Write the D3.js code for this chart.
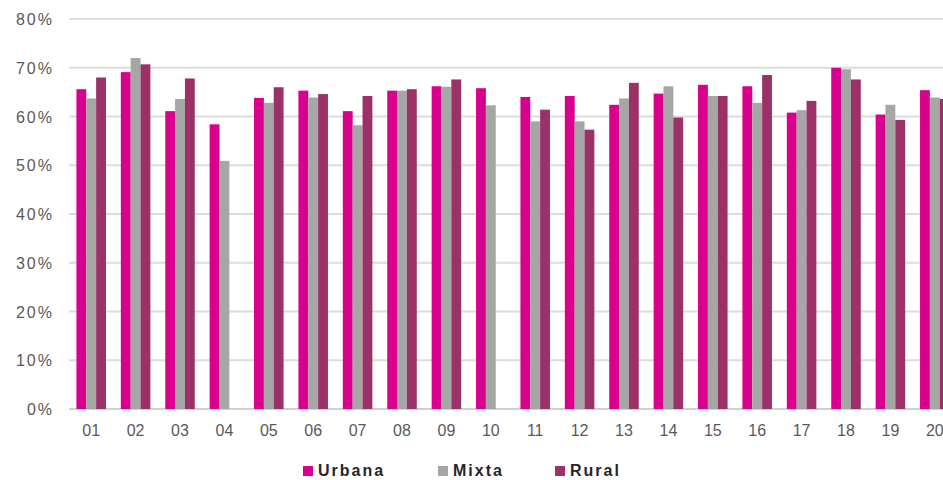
<!DOCTYPE html>
<html><head><meta charset="utf-8">
<script src="https://cdn.jsdelivr.net/npm/d3@7"></script>
<style>body{margin:0;background:#fff;overflow:hidden}svg{display:block}</style>
</head><body>
<script>
const categories = ["01","02","03","04","05","06","07","08","09","10","11","12","13","14","15","16","17","18","19","20"];
const urbana = [65.6,69.1,61.1,58.4,63.8,65.3,61.1,65.3,66.2,65.8,64.0,64.2,62.4,64.7,66.5,66.2,60.8,70.0,60.4,65.4];
const mixta  = [63.7,72.0,63.6,50.9,62.8,63.9,58.2,65.3,66.1,62.3,59.0,59.0,63.7,66.2,64.2,62.8,61.3,69.7,62.4,63.9];
const rural  = [68.0,70.7,67.8,null,66.0,64.6,64.2,65.6,67.6,null,61.4,57.3,66.9,59.8,64.2,68.5,63.2,67.6,59.3,63.6];
const seriesNames = ["Urbana","Mixta","Rural"];
const yTicks = [0,10,20,30,40,50,60,70,80];

const colors = ["#D9008D","#A6A6A6","#9B3166"];
const W = 943, H = 480;
const FONT = "Liberation Sans, Arial, sans-serif";
const svg = d3.select("body").append("svg").attr("width",W).attr("height",H);
const left = 69, step = 44.4;
const x = d3.scaleBand().domain(categories).range([left, left + step*categories.length]).paddingInner(0.335).paddingOuter(0.1675);
const y = d3.scaleLinear().domain([0,80]).range([409,19]);
const xs = d3.scaleBand().domain(seriesNames).range([0,x.bandwidth()]);

svg.append("g").selectAll("line").data(yTicks).join("line")
  .attr("x1",left).attr("x2",W).attr("y1",d=>y(d)).attr("y2",d=>y(d))
  .attr("stroke",d=>d===0?"#d0d0d0":"#dcdcdc").attr("stroke-width",2);

svg.append("g").selectAll("text").data(yTicks).join("text")
  .attr("x",54).attr("y",d=>y(d)+6).attr("text-anchor","end")
  .attr("font-family",FONT).attr("font-size",16).attr("letter-spacing",2).attr("fill","#595959")
  .text(d=>d+"%");

const data = [urbana,mixta,rural];
data.forEach((arr,si)=>{
  svg.append("g").selectAll("rect").data(arr.map((v,i)=>({v,c:categories[i]})).filter(d=>d.v!=null)).join("rect")
    .attr("x",d=>x(d.c)+xs(seriesNames[si]))
    .attr("width",xs.bandwidth())
    .attr("y",d=>y(d.v)).attr("height",d=>y(0)-y(d.v))
    .attr("fill",colors[si]);
});

svg.append("g").selectAll("text").data(categories).join("text")
  .attr("x",d=>x(d)+x.bandwidth()/2).attr("y",436).attr("text-anchor","middle")
  .attr("font-family",FONT).attr("font-size",16).attr("fill","#595959")
  .text(d=>d);

const legX = [303,438,555];
const lg = svg.append("g");
seriesNames.forEach((n,i)=>{
  lg.append("rect").attr("x",legX[i]).attr("y",466).attr("width",10).attr("height",10).attr("fill",colors[i]);
  lg.append("text").attr("x",legX[i]+15).attr("y",476)
    .attr("font-family",FONT).attr("font-size",16).attr("letter-spacing",2).attr("font-weight","bold").attr("fill","#262626")
    .text(n);
});
</script>
</body></html>
